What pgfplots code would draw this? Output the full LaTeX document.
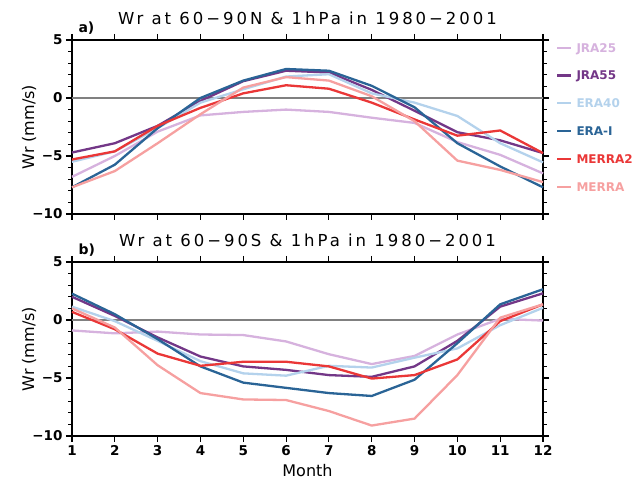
\documentclass[border=0pt]{standalone}
\usepackage{pgfplots}
\pgfplotsset{compat=1.18}
\usepackage{fontspec}
\setmainfont{DejaVu Sans}
\newfontfamily\titlefont[LetterSpace=18]{DejaVu Sans}
\definecolor{cjratwo}{RGB}{214,178,222}
\definecolor{cjrafive}{RGB}{115,55,135}
\definecolor{cerafour}{RGB}{180,210,236}
\definecolor{cerai}{RGB}{42,100,150}
\definecolor{cmerratwo}{RGB}{234,55,55}
\definecolor{cmerra}{RGB}{246,160,160}
\begin{document}
\begin{tikzpicture}[x=1pt,y=1pt]
\useasboundingbox (0,0) rectangle (633,486);
\pgfplotsset{
 myax/.style={
  scale only axis, width=471pt, height=174pt,
  xmin=1, xmax=12, ymin=-10, ymax=5,
  xtick={1,...,12}, ytick={-10,-5,0,5},
  yticklabels={−10,−5,0,5},
  minor y tick num=4,
  tick align=outside,
  major tick length=6pt, minor tick length=3.5pt,
  every tick/.style={black, line width=1.1pt},
  axis line style={line width=1.2pt},
  ticklabel style={font=\bfseries\fontsize{13.5}{13.5}\selectfont},
  /pgf/number format/assume math mode=true,
  yticklabel pos=left, xticklabel pos=left,
  ylabel={Wr (mm/s)},
  ylabel style={at={(rel axis cs:0,0.5)}, anchor=center, yshift=43pt, font=\fontsize{16}{16}\selectfont},
  title style={at={(0.5,1)}, anchor=base, yshift=9pt, font=\titlefont\fontsize{16.5}{16.5}\selectfont},
  every axis plot/.append style={line width=2.3pt, line join=round},
  clip=false,
 },
}
\begin{axis}[myax, at={(72pt,272pt)}, anchor=south west,
  xticklabels={},
  title={Wr at 60−90N \& 1hPa in 1980−2001},
  legend style={draw=none, fill=none, at={(1,1)}, anchor=north west, xshift=10pt, yshift=0pt,
    font=\bfseries\fontsize{12}{12}\selectfont, row sep=16.8pt,
    nodes={inner ysep=1pt, inner xsep=4pt, text height=9pt, text depth=0pt}},
  legend cell align=left,
  legend image code/.code={\draw[#1] (0pt,0pt) -- (14pt,0pt);},
]
\draw[gray, line width=1.1pt] (axis cs:1,0) -- (axis cs:12,0);
\node[anchor=base west, font=\bfseries\fontsize{14}{14}\selectfont] at (rel axis cs:0,1) [xshift=3pt, yshift=7pt] {a)};
\addplot[cjratwo] coordinates {(1,-6.8)(2,-5.0)(3,-2.9)(4,-1.5)(5,-1.2)(6,-1.0)(7,-1.2)(8,-1.7)(9,-2.15)(10,-3.8)(11,-4.9)(12,-6.5)};
\addlegendentry{\textcolor{cjratwo}{JRA25}}
\addplot[cjrafive] coordinates {(1,-4.7)(2,-3.9)(3,-2.4)(4,-0.25)(5,1.45)(6,2.35)(7,2.2)(8,0.7)(9,-1.1)(10,-2.95)(11,-3.65)(12,-4.75)};
\addlegendentry{\textcolor{cjrafive}{JRA55}}
\addplot[cerafour] coordinates {(1,-5.5)(2,-4.6)(3,-2.6)(4,-0.4)(5,0.75)(6,1.85)(7,2.05)(8,0.4)(9,-0.4)(10,-1.55)(11,-3.9)(12,-5.55)};
\addlegendentry{\textcolor{cerafour}{ERA40}}
\addplot[cerai] coordinates {(1,-7.7)(2,-5.75)(3,-2.6)(4,0.0)(5,1.5)(6,2.5)(7,2.35)(8,1.05)(9,-0.8)(10,-3.9)(11,-5.9)(12,-7.7)};
\addlegendentry{\textcolor{cerai}{ERA-I}}
\addplot[cmerratwo] coordinates {(1,-5.3)(2,-4.6)(3,-2.4)(4,-0.85)(5,0.4)(6,1.1)(7,0.8)(8,-0.4)(9,-1.85)(10,-3.25)(11,-2.8)(12,-4.75)};
\addlegendentry{\textcolor{cmerratwo}{MERRA2}}
\addplot[cmerra] coordinates {(1,-7.7)(2,-6.3)(3,-3.9)(4,-1.4)(5,0.9)(6,1.8)(7,1.5)(8,0.15)(9,-2.0)(10,-5.4)(11,-6.2)(12,-7.25)};
\addlegendentry{\textcolor{cmerra}{MERRA}}
\end{axis}
\begin{axis}[myax, at={(72pt,50pt)}, anchor=south west,
  xticklabels={1,2,3,4,5,6,7,8,9,10,11,12},
  title={Wr at 60−90S \& 1hPa in 1980−2001},
  xlabel={Month},
  xlabel style={at={(rel axis cs:0.5,0)}, anchor=center, yshift=-35pt, font=\fontsize{16}{16}\selectfont},
]
\draw[gray, line width=1.1pt] (axis cs:1,0) -- (axis cs:12,0);
\node[anchor=base west, font=\bfseries\fontsize{14}{14}\selectfont] at (rel axis cs:0,1) [xshift=3pt, yshift=7pt] {b)};
\addplot[cjratwo] coordinates {(1,-0.9)(2,-1.15)(3,-1.0)(4,-1.25)(5,-1.3)(6,-1.85)(7,-2.95)(8,-3.8)(9,-3.1)(10,-1.25)(11,0.1)(12,-0.05)};
\addplot[cjrafive] coordinates {(1,2.0)(2,0.35)(3,-1.5)(4,-3.15)(5,-4.0)(6,-4.3)(7,-4.75)(8,-4.9)(9,-4.0)(10,-1.8)(11,1.15)(12,2.3)};
\addplot[cerafour] coordinates {(1,1.15)(2,-0.1)(3,-1.8)(4,-3.55)(5,-4.6)(6,-4.8)(7,-3.95)(8,-4.1)(9,-3.25)(10,-2.45)(11,-0.45)(12,1.05)};
\addplot[cerai] coordinates {(1,2.27)(2,0.5)(3,-1.65)(4,-4.0)(5,-5.4)(6,-5.85)(7,-6.3)(8,-6.55)(9,-5.15)(10,-2.0)(11,1.35)(12,2.65)};
\addplot[cmerratwo] coordinates {(1,0.7)(2,-0.8)(3,-2.9)(4,-3.95)(5,-3.6)(6,-3.6)(7,-4.0)(8,-5.05)(9,-4.75)(10,-3.4)(11,-0.1)(12,1.35)};
\addplot[cmerra] coordinates {(1,1.0)(2,-0.65)(3,-3.9)(4,-6.3)(5,-6.85)(6,-6.9)(7,-7.85)(8,-9.1)(9,-8.5)(10,-4.75)(11,0.2)(12,1.35)};
\end{axis}
\end{tikzpicture}
\end{document}
